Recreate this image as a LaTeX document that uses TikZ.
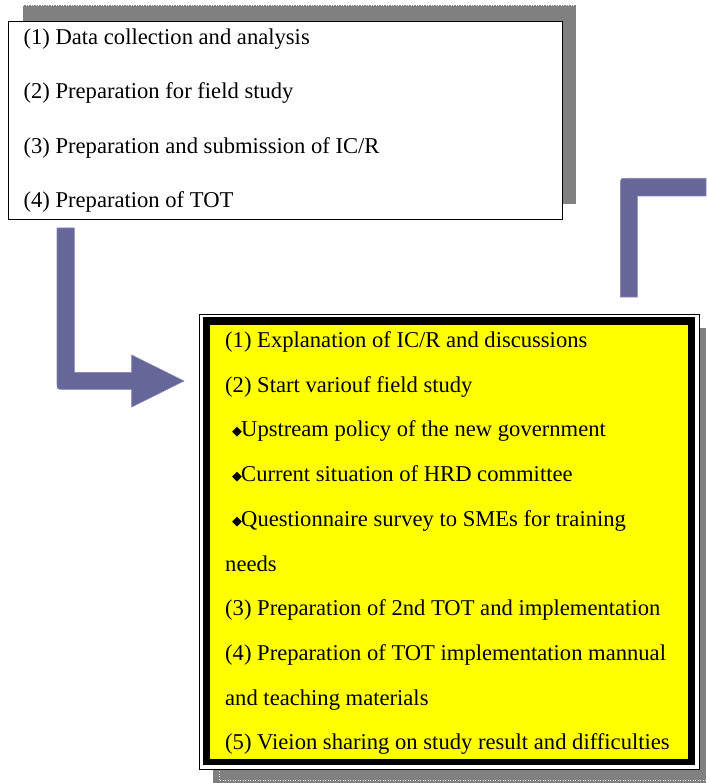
\documentclass[tikz,border=0pt]{standalone}
\usepackage{fontspec}
\setmainfont{Liberation Serif}
\newfontfamily\dejavu{DejaVu Sans}
\definecolor{arrowcol}{RGB}{102,102,153}
\definecolor{shadowgray}{RGB}{128,128,128}
\definecolor{boxyellow}{RGB}{255,255,0}
\tikzset{
  txt/.style={anchor=base west, inner sep=0pt, font=\fontsize{22.6}{27}\selectfont},
  blockarrow/.style={fill=arrowcol, draw=arrowcol!80!white, line width=0.6pt},
  shadowbox/.style={fill=shadowgray, draw=none},
}
\newcommand{\bul}{{\dejavu\fontsize{13}{14}\selectfont\raisebox{1.2pt}{◆}}\hspace{-1pt}}
\begin{document}
\begin{tikzpicture}[x=1pt,y=-1pt]
\useasboundingbox (0,0) rectangle (706,783);
\fill[white] (0,0) rectangle (706,783);

% ---------- top box ----------
\fill[shadowgray] (22.5,5) rectangle (575.5,204);
\draw[white, dotted, line width=0.5pt] (23,5.6) -- (575,5.6);
\node[draw=black, line width=1.2pt, fill=white, inner sep=0pt,
      minimum width=553.9pt, minimum height=198pt, anchor=north west]
      (topbox) at (7.7,21) {};
\node[txt] (t1) at (23.4,44.5) {(1) Data collection and analysis};
\node[txt] (t2) at (23.4,99)   {(2) Preparation for field study};
\node[txt] (t3) at (23.4,153.5){(3) Preparation and submission of IC/R};
\node[txt] (t4) at (23.4,208)  {(4) Preparation of TOT};

% ---------- arrows ----------
\path[blockarrow] (57,228) -- (74.3,228) -- (74.3,372.3) -- (131.7,372.3)
   -- (131.7,355) -- (184,381) -- (131.7,407) -- (131.7,389.3)
   -- (63,389.3) .. controls (57,389.3) .. (57,383.3) -- cycle;
\path[blockarrow] (620.5,297) -- (620.5,184.5) .. controls (620.5,178.3) .. (626.7,178.3)
   -- (706,178.3) -- (706,196) -- (637.3,196) -- (637.3,297) -- cycle;

% ---------- lower box ----------
\fill[shadowgray] (213,328) rectangle (706,783);
\draw[white!85!gray, dotted, line width=0.5pt] (219,766) -- (219,780) -- (706,780);
\draw[black, line width=1pt, fill=white] (199,314) rectangle (699.3,769.5);
\fill[black] (202.5,316.7) rectangle (694.5,765.3);
\node[fill=boxyellow, inner sep=0pt, minimum width=478.5pt, minimum height=434.8pt,
      anchor=north west] (lowbox) at (209.7,324.3) {};

\node[txt] (l1) at (225,347.5) {(1) Explanation of IC/R and discussions};
\node[txt] (l2) at (225,392.2) {(2) Start variouf field study};
\node[txt] (l3) at (232,436.9) {\bul Upstream policy of the new government};
\node[txt] (l4) at (232,481.6) {\bul Current situation of HRD committee};
\node[txt] (l5) at (232,526.3) {\bul Questionnaire survey to SMEs for training};
\node[txt] (l6) at (225,571)   {needs};
\node[txt] (l7) at (225,615.7) {(3) Preparation of 2nd TOT and implementation};
\node[txt] (l8) at (225,660.4) {(4) Preparation of TOT implementation mannual};
\node[txt] (l9) at (225,705.1) {and teaching materials};
\node[txt] (l10) at (225,749.8){(5) Vieion sharing on study result and difficulties};
\end{tikzpicture}
\end{document}
